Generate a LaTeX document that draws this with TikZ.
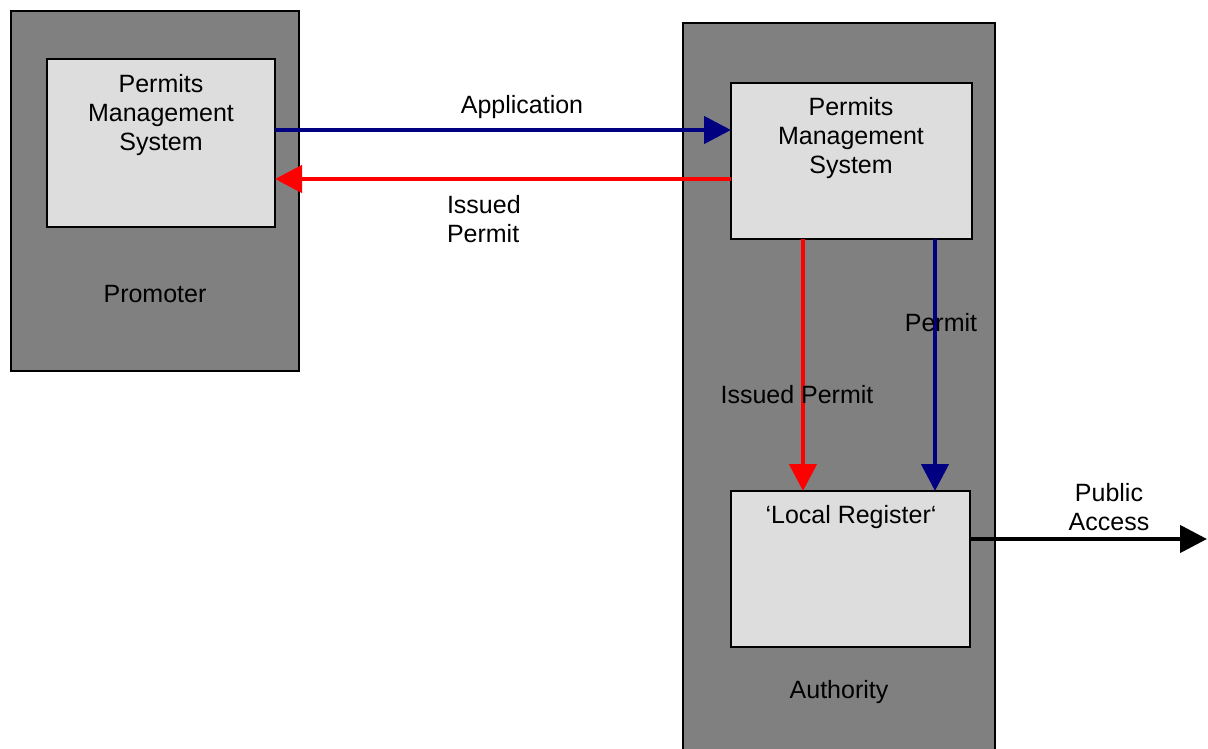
\documentclass[tikz,border=0pt]{standalone}
\usepackage{fontspec}
\setmainfont{Liberation Sans}
\usetikzlibrary{arrows.meta}
\definecolor{outergrey}{HTML}{808080}
\definecolor{innergrey}{HTML}{DDDDDD}
\definecolor{navyblue}{HTML}{000080}
\definecolor{pureRed}{HTML}{FF0000}
\begin{document}
\begin{tikzpicture}[x=1pt,y=-1pt,
  every node/.style={font=\fontsize{25}{29}\selectfont, inner sep=0pt, outer sep=0pt},
  org/.style={draw=black, line width=1.6pt, fill=outergrey, rectangle},
  sys/.style={draw=black, line width=1.6pt, fill=innergrey, rectangle},
  flow/.style={line width=4.5pt, -{Triangle[length=27pt,width=27pt]}},
  lbl/.style={align=center}]
\useasboundingbox (0,0) rectangle (1208,749);
\clip (0,0) rectangle (1208,749);

% organisations
\node[org, minimum width=288pt, minimum height=360pt] (promoter) at (155,191) {};
\node[org, minimum width=312pt, minimum height=757pt] (authority) at (839,401.5) {};

% systems
\node[sys, minimum width=228pt, minimum height=168pt] (pmsL) at (161,143) {};
\node[sys, minimum width=241pt, minimum height=156pt] (pmsR) at (851.5,161) {};
\node[sys, minimum width=239pt, minimum height=156pt] (reg) at (850.5,569) {};

% box texts
\node[lbl] (pmsLtext) at (161,115.5) {Permits\\Management\\System};
\node[lbl] (pmsRtext) at (851,138.5) {Permits\\Management\\System};
\node (promoterText) at (155,294.5) {Promoter};
\node (authorityText) at (839,692) {Authority};
\node (regText) at (851,517) {‘Local Register‘};

% flows between the systems
\draw[flow, navyblue] ([yshift=13pt]pmsL.east) -- ([yshift=31pt]pmsR.west);
\draw[flow, pureRed] ([yshift=-18pt]pmsR.west) -- ([yshift=-36pt]pmsL.east);
\draw[flow, pureRed] ([xshift=-48.5pt]pmsR.south) coordinate (r1) -- (r1 |- reg.north);
\draw[flow, navyblue] ([xshift=83.5pt]pmsR.south) coordinate (b1) -- (b1 |- reg.north);
\coordinate (outside) at (1207,539);
\draw[flow, black] ([yshift=30pt]reg.east) -- (outside);

% flow labels
\node (appText) at (522,107) {Application};
\node[align=left, anchor=west] (issuedText) at (447,219.5) {Issued\\Permit};
\node (permitText) at (941,323) {Permit};
\node (issued2Text) at (797,395) {Issued Permit};
\node[lbl] (publicText) at (1109,507.5) {Public\\Access};
\end{tikzpicture}
\end{document}
